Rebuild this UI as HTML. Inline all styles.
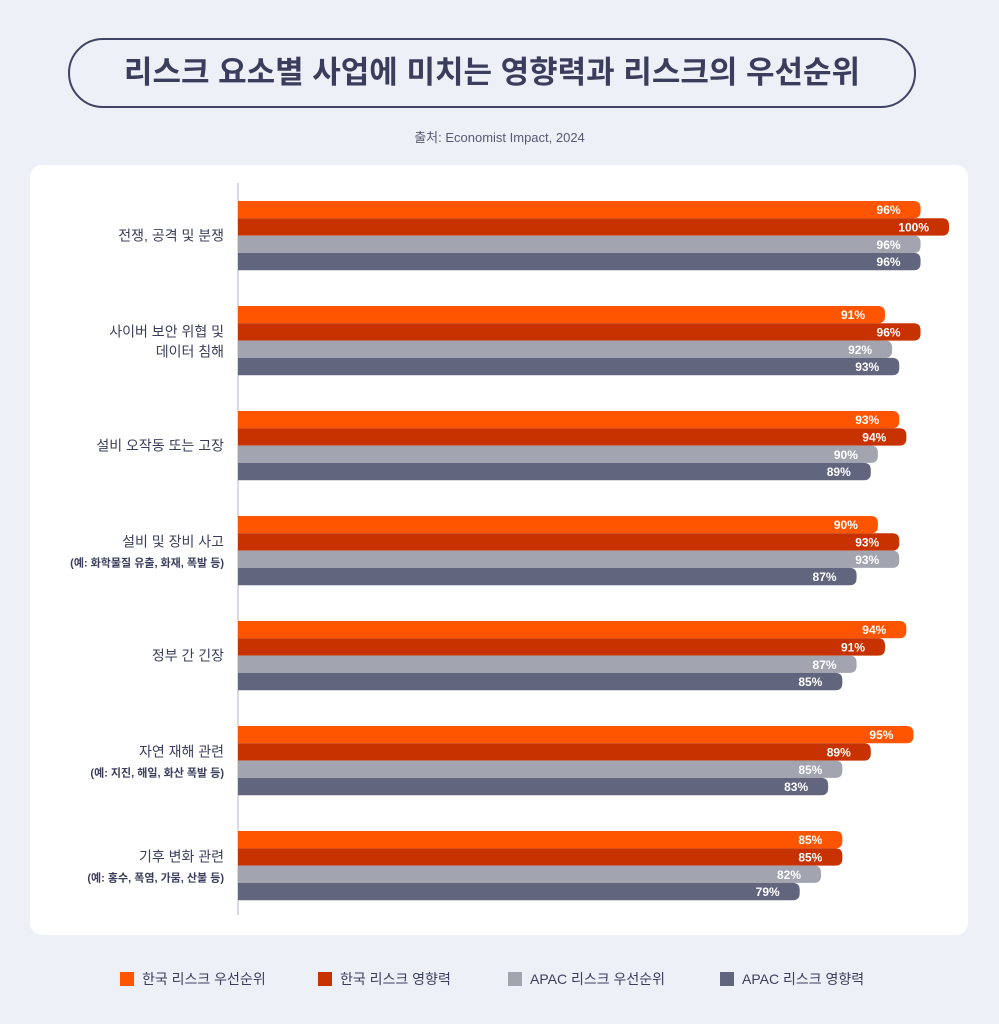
<!DOCTYPE html>
<html><head><meta charset="utf-8"><style>
body{margin:0;width:999px;height:1024px;background:#eef0f8;font-family:"Liberation Sans","Noto Sans CJK KR",sans-serif;position:relative;overflow:hidden}
.title{position:absolute;left:68px;top:38px;width:848px;height:70px;border:2px solid #3f4363;border-radius:36px;box-sizing:border-box;text-align:center;line-height:66px;font-size:31px;font-weight:bold;color:#3a3e5c}
.src{position:absolute;top:127px;width:999px;text-align:center;font-size:13px;color:#555a72}
.card{position:absolute;left:30px;top:165px;width:938px;height:770px;background:#fff;border-radius:12px}
.lg{position:absolute;top:969px;font-size:14px;color:#3a3e5c;display:flex;align-items:center}
.lg span{width:14px;height:14px;display:inline-block;margin-right:8px}
</style></head><body>
<div class="title">리스크 요소별 사업에 미치는 영향력과 리스크의 우선순위</div>
<div class="src">출처: Economist Impact, 2024</div>
<div class="card"></div>
<svg id="chart" width="999" height="1024" style="position:absolute;left:0;top:0"></svg>
<div class="lg" style="left:120px"><span style="background:#ff5500"></span>한국 리스크 우선순위</div>
<div class="lg" style="left:318px"><span style="background:#c83200"></span>한국 리스크 영향력</div>
<div class="lg" style="left:508px"><span style="background:#a2a4b0"></span>APAC 리스크 우선순위</div>
<div class="lg" style="left:720px"><span style="background:#62657e"></span>APAC 리스크 영향력</div>
<script>
const categories=[["전쟁, 공격 및 분쟁"],["사이버 보안 위협 및","데이터 침해"],["설비 오작동 또는 고장"],["설비 및 장비 사고","(예: 화학물질 유출, 화재, 폭발 등)"],["정부 간 긴장"],["자연 재해 관련","(예: 지진, 해일, 화산 폭발 등)"],["기후 변화 관련","(예: 홍수, 폭염, 가뭄, 산불 등)"]];
const koreaPriority=[96,91,93,90,94,95,85];
const koreaImpact=[100,96,94,93,91,89,85];
const apacPriority=[96,92,90,93,87,85,82];
const apacImpact=[96,93,89,87,85,83,79];
const series=[koreaPriority,koreaImpact,apacPriority,apacImpact];
const colors=["#ff5500","#c83200","#a2a4b0","#62657e"];
const names=["korea-priority","korea-impact","apac-priority","apac-impact"];
const svg=document.getElementById('chart');const NS="http://www.w3.org/2000/svg";
const x0=238,k=7.11;
function xs(v){return x0+v*k;}
function gy(i){return 201+i*105;}
const bh=17.3;
const axis=document.createElementNS(NS,'line');


axis.setAttribute('x1',x0);axis.setAttribute('x2',x0);axis.setAttribute('y1',183);axis.setAttribute('y2',915);axis.setAttribute('stroke','#b5b7c2');svg.appendChild(axis);
categories.forEach((c,i)=>{
  const cy=gy(i)+2*bh;
  const small=c.length>1&&c[1].startsWith('(');
  c.forEach((line,j)=>{
    const t=document.createElementNS(NS,'text');
    
    
    t.setAttribute('x',224);
    const off=c.length===1?0:(j===0?-9:11);
    t.setAttribute('y',cy+off+5);
    t.setAttribute('text-anchor','end');
    t.setAttribute('font-size',(small&&j===1)?11:14);
    t.setAttribute('font-weight',(small&&j===1)?'bold':'normal');
    t.setAttribute('fill','#3a3e5c');
    t.textContent=line;svg.appendChild(t);
  });
  series.forEach((s,si)=>{
    const y=gy(i)+si*bh,w=xs(s[i])-x0;
    const p=document.createElementNS(NS,'path');
    
    
    const r=7;
    p.setAttribute('d',`M${x0},${y}H${x0+w-r}Q${x0+w},${y} ${x0+w},${y+r}V${y+bh-r}Q${x0+w},${y+bh} ${x0+w-r},${y+bh}H${x0}Z`);
    p.setAttribute('fill',colors[si]);svg.appendChild(p);
    const t=document.createElementNS(NS,'text');
    
    
    t.setAttribute('x',x0+w-20);t.setAttribute('y',y+bh/2+4.5);
    t.setAttribute('text-anchor','end');t.setAttribute('font-size',12);t.setAttribute('font-weight','bold');t.setAttribute('fill','#fff');
    t.textContent=s[i]+'%';svg.appendChild(t);
  });
});
</script>
</body></html>
